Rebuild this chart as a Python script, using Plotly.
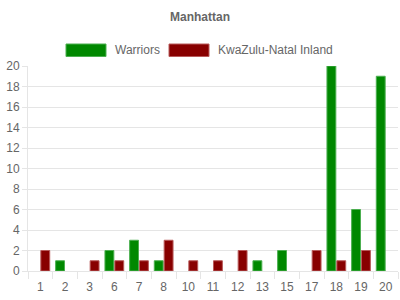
import plotly.graph_objects as go

categories = ["1", "2", "3", "6", "7", "8", "10", "11", "12", "13", "15", "17", "18", "19", "20"]
warriors = [0, 1, 0, 2, 3, 1, 0, 0, 0, 1, 2, 0, 20, 6, 19]
kwazulu = [2, 0, 1, 1, 1, 3, 1, 1, 2, 0, 0, 2, 1, 2, 0]
y_ticks = list(range(0, 21, 2))
series_names = ["Warriors", "KwaZulu-Natal Inland"]

GRID = "#e5e5e5"
TXT = "#666666"
FONT = "Liberation Sans, Arial, sans-serif"
FILLS = ["#008800", "#880000"]
EDGES = ["#4caf50", "#b85a5a"]

fig = go.Figure()
for name, vals, fc, ec in zip(series_names, [warriors, kwazulu], FILLS, EDGES):
    fig.add_bar(x=categories, y=vals, name=name,
                marker=dict(color=fc, line=dict(color=ec, width=[1 if v else 0 for v in vals])))

# custom legend (wide boxes like the reference)
L, R, T, B = 28, 398, 66, 271
def px(x): return (x - L) / (R - L)
def py(y): return (B - y) / (B - T)
legend_items = [(66, 106, 113), (169, 209, 216)]
for (bx0, bx1, tx), name, fc, ec in zip(legend_items, series_names, FILLS, EDGES):
    fig.add_shape(type="rect", xref="paper", yref="paper", x0=px(bx0), x1=px(bx1),
                  y0=py(56.5), y1=py(44), fillcolor=fc, line=dict(color=ec, width=1))
    fig.add_annotation(xref="paper", yref="paper", x=px(tx), y=py(50), text=name,
                       showarrow=False, xanchor="left", yanchor="middle",
                       font=dict(family=FONT, size=12, color=TXT))

fig.update_layout(
    width=400, height=300,
    margin=dict(l=L, r=400 - R, t=T, b=300 - B),
    paper_bgcolor="white", plot_bgcolor="white",
    font=dict(family=FONT, size=12, color=TXT),
    title=dict(text="<b>Manhattan</b>", x=0.5, xanchor="center", y=1 - 17/300, yanchor="middle",
               font=dict(family=FONT, size=12, color=TXT)),
    barmode="group", bargap=0.2, bargroupgap=0.1,
    showlegend=False,
)
fig.update_xaxes(type="category", tickson="boundaries", ticks="outside", ticklen=7,
                 tickcolor=GRID, showgrid=False, showline=True, linecolor=GRID,
                 ticklabelstandoff=5,
                 tickfont=dict(family=FONT, size=12, color=TXT))
fig.update_yaxes(range=[0, 20], tickvals=y_ticks, ticks="outside", ticklen=5, tickcolor=GRID,
                 showgrid=True, gridcolor=GRID, showline=True, linecolor=GRID,
                 zeroline=False, tickfont=dict(family=FONT, size=12, color=TXT))

fig.write_html("out.html")
